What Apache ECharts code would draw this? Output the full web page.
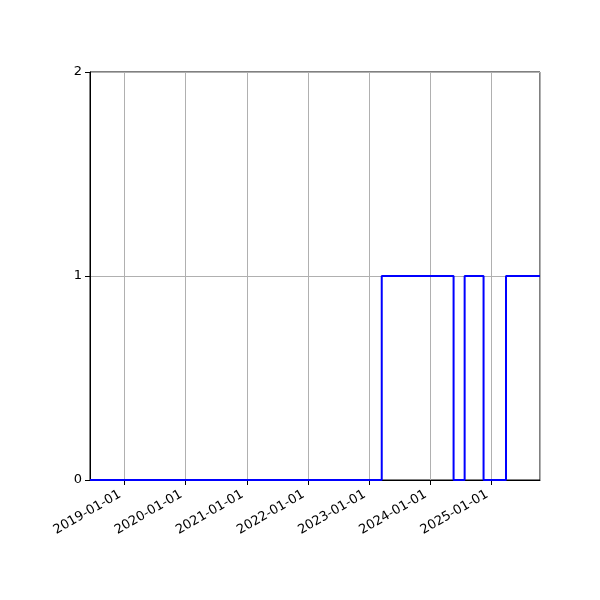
<!DOCTYPE html>
<html>
<head>
<meta charset="utf-8">
<script src="https://cdn.jsdelivr.net/npm/echarts@6/dist/echarts.min.js"></script>
<style>
  html, body { margin: 0; padding: 0; background: #fff; }
  #chart { width: 600px; height: 600px; }
</style>
</head>
<body>
<div id="chart"></div>
<script>
// step data: dates where the value changes
var stepDates = ['2018-06-10', '2023-03-18', '2024-05-20', '2024-07-25', '2024-11-15', '2025-03-29', '2025-10-18'];
var stepValues = [0, 1, 0, 1, 0, 1, 1];
var yTicks = [0, 1, 2];

var xMin = +new Date(stepDates[0]);
var xMax = +new Date(stepDates[stepDates.length - 1]);

var points = stepDates.map(function (d, i) {
    return [+new Date(d), stepValues[i]];
});

var myChart = echarts.init(document.getElementById('chart'));
var DAY = 86400000;

var option = {
    animation: false,
    grid: {
        left: 90,
        right: 60,
        top: 72,
        bottom: 120,
        show: true,
        borderColor: '#000',
        borderWidth: 1
    },
    xAxis: {
        type: 'time',
        min: xMin,
        max: xMax,
        minInterval: 365 * DAY,
        maxInterval: 366 * DAY,
        axisLine: { show: true, lineStyle: { color: '#000', width: 1 } },
        axisTick: { show: true, length: 5, lineStyle: { color: '#000' } },
        splitLine: { show: true, lineStyle: { color: '#b0b0b0', width: 1 } },
        axisLabel: {
            rotate: 30,
            color: '#000',
            fontSize: 13,
            fontFamily: 'DejaVu Sans',
            margin: 11,
            padding: [0, 5, 0, 0],
            showMinLabel: false,
            showMaxLabel: false,
            formatter: function (val) {
                var d = new Date(val);
                var mm = ('0' + (d.getMonth() + 1)).slice(-2);
                var dd = ('0' + d.getDate()).slice(-2);
                return d.getFullYear() + '-' + mm + '-' + dd;
            }
        }
    },
    yAxis: {
        type: 'value',
        min: yTicks[0],
        max: yTicks[yTicks.length - 1],
        interval: 1,
        axisLine: { show: true, lineStyle: { color: '#000', width: 1 } },
        axisTick: { show: true, length: 5, lineStyle: { color: '#000' } },
        splitLine: { show: true, lineStyle: { color: '#b0b0b0', width: 1 } },
        axisLabel: {
            color: '#000',
            fontSize: 13,
            fontFamily: 'DejaVu Sans',
            margin: 8
        }
    },
    series: [{
        type: 'line',
        step: 'end',
        data: points,
        showSymbol: false,
        lineStyle: { color: '#0000ff', width: 2 },
        z: 5
    }]
};
myChart.setOption(option);
</script>
</body>
</html>
